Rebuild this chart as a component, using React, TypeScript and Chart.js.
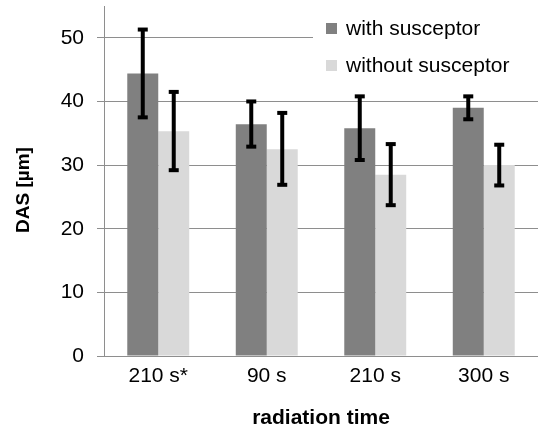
import React, { useEffect, useRef } from "react";
import { Chart, registerables } from "chart.js";

Chart.register(...registerables);

const categories = ["210 s*", "90 s", "210 s", "300 s"];
const seriesLabels = ["with susceptor", "without susceptor"];
const withSusceptor = [44.4, 36.4, 35.8, 39.0];
const withoutSusceptor = [35.3, 32.5, 28.5, 30.0];
const withHigh = [51.3, 40.0, 40.8, 40.8];
const withLow = [37.5, 32.9, 30.8, 37.2];
const withoutHigh = [41.5, 38.2, 33.3, 33.2];
const withoutLow = [29.2, 26.9, 23.7, 26.8];
const yTicks = [0, 10, 20, 30, 40, 50];
const yMax = 55;
const yTitle = "DAS [µm]";
const xTitle = "radiation time";

const DARK = "#808080";
const LIGHT = "#d9d9d9";
const GRID = "#8e8e8e";
const FONT = "'Liberation Sans', Arial, sans-serif";

const errHigh = [withHigh, withoutHigh];
const errLow = [withLow, withoutLow];

const errorBarPlugin = {
  id: "errorBars",
  afterDatasetsDraw(chart: any) {
    const ctx = chart.ctx;
    const yScale = chart.scales.y;
    ctx.save();
    ctx.strokeStyle = "#000";
    ctx.fillStyle = "#000";
    chart.data.datasets.forEach((_: any, i: number) => {
      const meta = chart.getDatasetMeta(i);
      meta.data.forEach((el: any, j: number) => {
        const x = el.x;
        const yh = yScale.getPixelForValue(errHigh[i][j]);
        const yl = yScale.getPixelForValue(errLow[i][j]);
        ctx.lineWidth = 4;
        ctx.beginPath();
        ctx.moveTo(x, yh);
        ctx.lineTo(x, yl);
        ctx.stroke();
        ctx.fillRect(x - 5, yh - 2, 10, 4);
        ctx.fillRect(x - 5, yl - 2, 10, 4);
      });
    });
    ctx.restore();
  },
};

const legendPlugin = {
  id: "customLegend",
  afterDraw(chart: any) {
    const ctx = chart.ctx;
    ctx.save();
    ctx.fillStyle = "#fff";
    ctx.fillRect(313, 10, 225, 72);
    const colors = [DARK, LIGHT];
    const rows = [28.5, 65.5];
    chart.data.datasets.forEach((ds: any, i: number) => {
      ctx.fillStyle = colors[i];
      ctx.fillRect(326, rows[i] - 5.5, 11, 11);
      ctx.fillStyle = "#000";
      ctx.font = `21px ${FONT}`;
      ctx.textBaseline = "middle";
      ctx.textAlign = "left";
      ctx.fillText(ds.label, 346, rows[i] + 1);
    });
    // y axis title
    ctx.translate(24, 190);
    ctx.rotate(-Math.PI / 2);
    ctx.font = `bold 19px ${FONT}`;
    ctx.textAlign = "center";
    ctx.textBaseline = "middle";
    ctx.fillText(yTitle, 0, 0);
    ctx.restore();
  },
};

export default function App() {
  const ref = useRef<HTMLCanvasElement | null>(null);
  useEffect(() => {
    if (!ref.current) return;
    Chart.defaults.font.family = FONT;
    const chart = new Chart(ref.current, {
      type: "bar",
      data: {
        labels: categories,
        datasets: [
          {
            label: seriesLabels[0],
            data: withSusceptor,
            backgroundColor: DARK,
            categoryPercentage: 0.571,
            barPercentage: 1,
          },
          {
            label: seriesLabels[1],
            data: withoutSusceptor,
            backgroundColor: LIGHT,
            categoryPercentage: 0.571,
            barPercentage: 1,
          },
        ],
      },
      options: {
        responsive: false,
        animation: false,
        maintainAspectRatio: false,
        layout: { padding: { top: 6, right: 0, left: 0, bottom: 0 } },
        plugins: {
          legend: { display: false },
          tooltip: { enabled: false },
        },
        scales: {
          x: {
            grid: { display: false, drawTicks: false },
            border: { display: true, color: GRID, width: 1 },
            ticks: { color: "#000", font: { size: 21 }, padding: 8 },
            title: {
              display: true,
              text: xTitle,
              color: "#000",
              font: { size: 21, weight: "bold" },
              padding: { top: 0, bottom: 1 },
            },
            afterFit(scale: any) {
              scale.height = 76;
              scale.paddingLeft = 0;
              scale.paddingRight = 0;
            },
          },
          y: {
            min: 0,
            max: yMax,
            grid: { color: GRID, lineWidth: 1, tickLength: 7, drawTicks: true },
            border: { display: true, color: GRID, width: 1 },
            ticks: { color: "#000", font: { size: 21 }, padding: 13 },
            afterBuildTicks(scale: any) {
              scale.ticks = yTicks.map((v) => ({ value: v }));
            },
            title: { display: false },
            afterFit(scale: any) {
              scale.width = 104;
              scale.paddingTop = 0;
              scale.paddingBottom = 0;
            },
          },
        },
      },
      plugins: [errorBarPlugin, legendPlugin],
    } as any);
    return () => chart.destroy();
  }, []);
  return (
    <div style={{ position: "absolute", left: 0, top: 0, width: 538, height: 432, background: "#fff" }}>
      <canvas ref={ref} width={538} height={432} style={{ display: "block" }} />
    </div>
  );
}
